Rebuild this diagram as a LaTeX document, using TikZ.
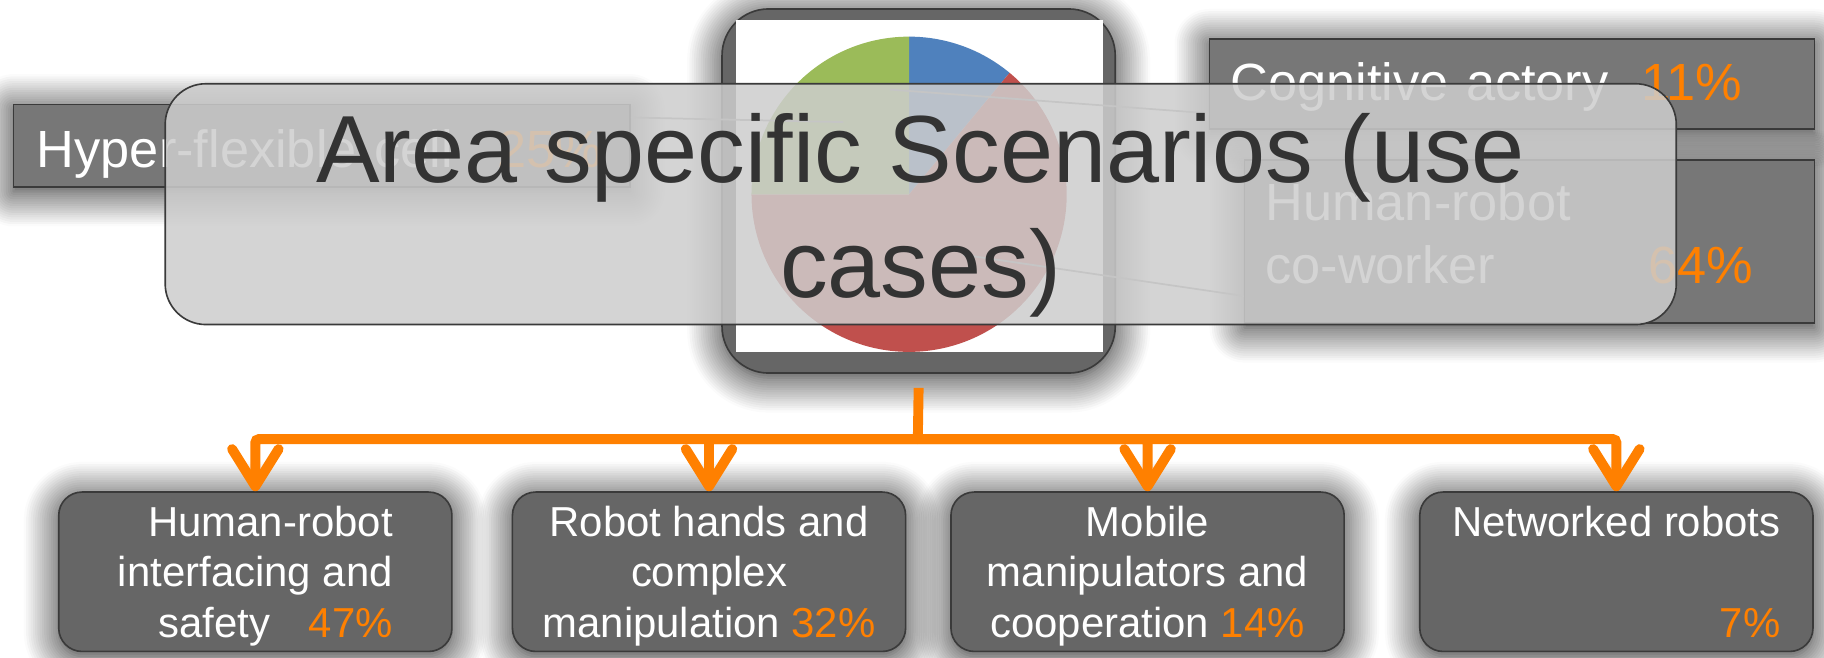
\documentclass[tikz,border=0pt]{standalone}
\usepackage{fontspec}
\setmainfont{Liberation Sans}
\usetikzlibrary{arrows.meta, calc, shadows.blur}
\definecolor{cBox}{HTML}{666666}
\definecolor{cLbl}{HTML}{777777}
\definecolor{cEdge}{HTML}{3A3A3A}
\definecolor{cNar}{HTML}{FF8000}
\definecolor{cTitle}{HTML}{333333}
\definecolor{cPanel}{HTML}{CDCDCD}
\definecolor{cLead}{HTML}{9A9A9A}
\definecolor{cBlue}{HTML}{4F81BD}
\definecolor{cRed}{HTML}{C0504D}
\definecolor{cGreen}{HTML}{9BBB59}
\newcommand{\pcnt}[1]{\textcolor{cNar}{#1}}

\begin{document}
\begin{tikzpicture}[
    x=1pt, y=1pt,
    glow/.style={blur shadow={shadow xshift=0pt, shadow yshift=-4pt,
                 shadow blur radius=30pt, shadow opacity=90,
                 shadow blur steps=16}},
    area/.style={draw=cEdge, line width=1.4pt, rounded corners=20pt,
                 fill=cBox, glow, text=white, align=center, inner sep=0pt,
                 font=\fontsize{36}{43.5}\selectfont,
                 minimum width=338pt, minimum height=137pt,
                 text height=120pt, text depth=7pt},
    lbl/.style={draw=cEdge, line width=1.4pt, fill=cLbl, glow, text=white,
                align=left, inner ysep=0pt,
                font=\fontsize{45}{54}\selectfont, anchor=north west},
    panel/.style={draw=cEdge, line width=1.4pt, rounded corners=35pt,
                  fill=cPanel, fill opacity=0.85, text opacity=1,
                  text=cTitle, align=center, inner sep=0pt,
                  font=\fontsize{82}{99}\selectfont},
    flow/.style={draw=cNar, line width=8.5pt, rounded corners=3pt},
    down/.style={-{Straight Barb[length=32pt, width=40pt, round]}},
    lead/.style={draw=cLead, line width=1.5pt},
]
\useasboundingbox (0,0) rectangle (1568,565);

% ===================== Etiquetas del grafico =====================
\node[lbl, text width=490pt, inner xsep=20pt, minimum height=71pt,
      text height=46pt, text depth=9pt] (hyper) at (11,476)
      {Hyper-flexible cell\hspace{38pt}\pcnt{25\%}};
\node[lbl, text width=484pt, inner xsep=18pt, minimum height=77pt,
      text height=38pt, text depth=9pt] (cogn) at (1039,532)
      {Cognitive actory\hspace{28pt}\pcnt{11\%}};
\node[lbl, text width=454pt, inner xsep=18pt, minimum height=140pt,
      text height=27pt, text depth=63pt] (cowork) at (1069,428)
      {Human-robot\\co-worker\hspace{132pt}\pcnt{64\%}};

% ===================== Grafico de sectores =====================
\node[area, rounded corners=40pt, minimum width=338pt, minimum height=313pt,
      anchor=north west] (chart) at (620,558) {};
\fill[white] (633,262) rectangle (948,548);
\fill[cBlue] (781.5,398) -- ++(90:135.5)
      arc[start angle=90, end angle=50.4, radius=135.5] -- cycle;
\fill[cRed] (781.5,398) -- ++(50.4:135.5)
      arc[start angle=50.4, end angle=-180, radius=135.5] -- cycle;
\fill[cGreen] (781.5,398) -- ++(180:135.5)
      arc[start angle=180, end angle=90, radius=135.5] -- cycle;

% lineas guia
\draw[lead] ([yshift=-12pt]hyper.north east) -- (725,460);
\draw[lead] ([yshift=14pt]cogn.south west) -- (765,488);
\draw[lead] ([yshift=24pt]cowork.south west) -- (828,346);

% ===================== Panel del titulo =====================
\node[panel, minimum width=1299pt, minimum height=207pt,
      text height=178pt, text depth=17pt] (title) at (791.5,389.5)
      {Area specific Scenarios (use\\cases)};

% ===================== Escenarios =====================
\node[area, align=right] (hri) at (219.5,73.5)
      {Human-robot\\interfacing and\\safety\hspace{33pt}\pcnt{47\%}};
\node[area] (hands) at (609.5,73.5)
      {Robot hands and\\complex\\manipulation \pcnt{32\%}};
\node[area] (mobile) at (986.5,73.5)
      {Mobile\\manipulators and\\cooperation \pcnt{14\%}};
\node[area, align=right] (net) at (1389.5,73.5)
      {Networked robots\\~\\\pcnt{7\%}};

% ===================== Reparto =====================
\coordinate (bus) at (789,187.5);
\draw[flow] ([yshift=-12pt]chart.south) -- (bus);
\draw[flow, down] (bus) -| (hri.north);
\draw[flow, down] (bus) -| (hands.north);
\draw[flow, down] (bus) -| (mobile.north);
\draw[flow, down] (bus) -| (net.north);

\end{tikzpicture}
\end{document}
